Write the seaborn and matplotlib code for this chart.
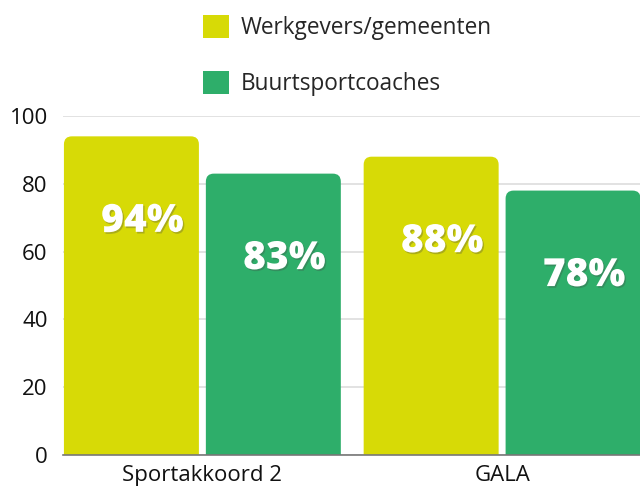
import matplotlib
matplotlib.use("Agg")
import matplotlib.pyplot as plt
import seaborn as sns
import pandas as pd
from matplotlib.patches import FancyBboxPatch, Patch
import matplotlib.patheffects as pe
from matplotlib.transforms import offset_copy

categories = ["Sportakkoord 2", "GALA"]
series = ["Werkgevers/gemeenten", "Buurtsportcoaches"]
werkgevers = [94, 88]
buurtsportcoaches = [83, 78]
colors = ["#d7da06", "#2eae6a"]
yticks = [0, 20, 40, 60, 80, 100]

df = pd.DataFrame({
    "cat": categories * 2,
    "series": [series[0]] * 2 + [series[1]] * 2,
    "value": werkgevers + buurtsportcoaches,
})

sns.set_theme(style="white")
plt.rcParams["font.family"] = ["Open Sans", "DejaVu Sans"]

fig = plt.figure(figsize=(6.4, 4.88), dpi=100)
ax = fig.add_axes([63 / 640, 1 - 455 / 488, 1 - 63 / 640, (455 - 116) / 488])

sns.barplot(data=df, x="cat", y="value", hue="series", palette=colors,
            ax=ax, width=0.947, gap=0.049, legend=False, saturation=1)
ax.set_ylim(0, 100)
ax.set_xlim(-0.465, 1.46)

# rounded tops
xpx = ax.bbox.width / (1.46 + 0.465)
ypx = ax.bbox.height / 100.0
r = 8 / xpx
aspect = xpx / ypx
for p in list(ax.patches):
    x, w, h = p.get_x(), p.get_width(), p.get_height()
    fc = p.get_facecolor()
    p.set_visible(False)
    fb = FancyBboxPatch((x, -10), w, h + 10,
                        boxstyle=f"round,pad=0,rounding_size={r}",
                        mutation_aspect=aspect, facecolor=fc, edgecolor="none",
                        zorder=2, clip_on=True)
    ax.add_patch(fb)
    tr = offset_copy(ax.transData, fig=fig, x=11, y=-85, units="dots")
    ax.text(x + w / 2, h, f"{int(round(h))}%", ha="center", va="center",
            color="white", fontsize=28, fontweight=800, zorder=4, transform=tr,
            path_effects=[pe.withSimplePatchShadow(offset=(1.0, -1.2),
                                                   shadow_rgbFace="#444444", alpha=0.3)])

ax.set_yticks(yticks)
ax.yaxis.grid(True, color="#dddddd", linewidth=1.2, zorder=0)
ax.set_axisbelow(True)
for s in ["top", "right", "left"]:
    ax.spines[s].set_visible(False)
ax.spines["bottom"].set_color("#777777")
ax.spines["bottom"].set_linewidth(1.2)
ax.spines["bottom"].set_zorder(5)
ax.tick_params(axis="both", length=0, labelsize=16, colors="#111111")
ax.tick_params(axis="y", pad=11)
ax.tick_params(axis="x", pad=7)
ax.set_xlabel("")
ax.set_ylabel("")

handles = [Patch(facecolor=c, edgecolor="none") for c in colors]
fig.legend(handles, series, loc="upper left", bbox_to_anchor=(203 / 640, 1 - 15 / 488),
           frameon=False, fontsize=16.3, handlelength=1.16, handleheight=1.16,
           handletextpad=0.5, labelspacing=1.37, borderpad=0, borderaxespad=0)

fig.savefig("out.png", dpi=100)
